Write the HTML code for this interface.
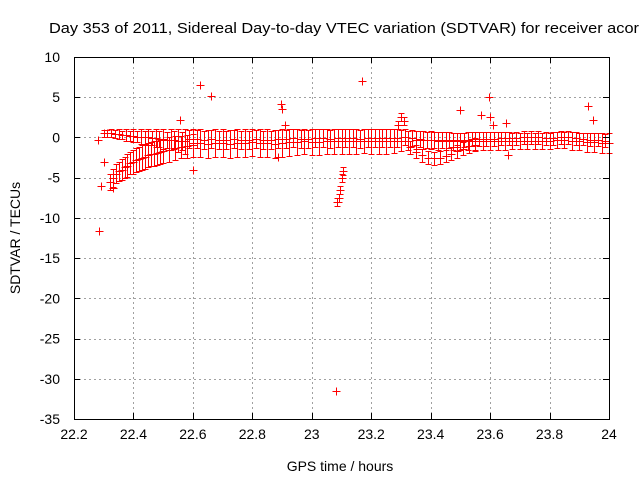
<!DOCTYPE html>
<html><head><meta charset="utf-8"><style>
html,body{margin:0;padding:0;background:#fff;}
svg{display:block;font-family:"Liberation Sans",sans-serif;}
</style></head><body>
<svg id="chart" width="640" height="480">
<text x="49" y="33" font-size="14.5" textLength="590" lengthAdjust="spacingAndGlyphs" fill="#000">Day 353 of 2011, Sidereal Day-to-day VTEC variation (SDTVAR) for receiver acor</text>
<text transform="translate(20,238) rotate(-90)" text-anchor="middle" font-size="14">SDTVAR / TECUs</text>
<text x="340" y="471" text-anchor="middle" font-size="14">GPS time / hours</text>
<g id="grid"></g>
<g id="marks" shape-rendering="crispEdges"></g>
<rect x="74.5" y="57.5" width="535" height="362" fill="none" stroke="#000" stroke-width="1"/>
<g id="ticks"></g>
</svg>
<script>
const xTicks=[22.2,22.4,22.6,22.8,23,23.2,23.4,23.6,23.8,24];
const xTickLabels=["22.2","22.4","22.6","22.8","23","23.2","23.4","23.6","23.8","24"];
const yTicks=[10,5,0,-5,-10,-15,-20,-25,-30,-35];
const yTickLabels=["10","5","0","-5","-10","-15","-20","-25","-30","-35"];
const t1Times=[22.3,22.325,22.35,22.375,22.4,22.425,22.45,22.475,22.5,22.525,22.55,22.575,22.6,22.625,22.65,22.675,22.7,22.725,22.75,22.775,22.8,22.825,22.85,22.875,22.9,22.925,22.95,22.975,23,23.025,23.05,23.075,23.1,23.125,23.15,23.175,23.2,23.225,23.25,23.275,23.3,23.325,23.35,23.375,23.4,23.425,23.45,23.475,23.5,23.525,23.55,23.575,23.6,23.625,23.65,23.675,23.7,23.725,23.75,23.775,23.8,23.825,23.85,23.875,23.9,23.925,23.95,23.975,24];
const t1Values=[0.5,0.6,0.4,0.3,0.2,0.1,0,-0.1,-0.2,-0.3,-0.4,-0.5,-0.7,-0.7,-0.8,-0.7,-0.7,-0.8,-0.7,-0.7,-0.6,-0.7,-0.7,-0.8,-0.7,-0.6,-0.6,-0.5,-0.6,-0.6,-0.5,-0.5,-0.5,-0.5,-0.5,-0.4,-0.5,-0.5,-0.5,-0.4,-0.4,-0.4,-0.3,-0.3,-0.3,-0.4,-0.4,-0.5,-0.5,-0.4,-0.4,-0.4,-0.4,-0.4,-0.4,-0.4,-0.4,-0.4,-0.4,-0.4,-0.4,-0.3,-0.3,-0.4,-0.5,-0.6,-0.6,-0.7,-0.7];
const t1Errors=[0.4,0.5,0.6,0.7,0.8,0.9,1.0,1.1,1.2,1.3,1.4,1.5,1.7,1.7,1.7,1.7,1.7,1.7,1.7,1.7,1.7,1.7,1.7,1.7,1.7,1.7,1.6,1.6,1.6,1.6,1.6,1.5,1.5,1.5,1.5,1.5,1.5,1.5,1.5,1.5,1.3,1.2,1.1,1.1,1.1,1.1,1.1,1.1,1.1,1.1,1.1,1.1,1.1,1.1,1.1,1.0,1.0,1.0,1.0,1.0,1.0,1.0,1.0,1.1,1.1,1.2,1.2,1.2,1.2];
const t5Times=[22.3125,22.3375,22.3625,22.3875,22.4125,22.4375,22.4625,22.4875,22.5125,22.5375,22.5625,22.5875,22.6125,22.6375,22.6625,22.6875,22.7125,22.7375,22.7625,22.7875,22.8125,22.8375,22.8625,22.8875,22.9125,22.9375,22.9625,22.9875,23.0125,23.0375,23.0625,23.0875,23.1125,23.1375,23.1625,23.1875,23.2125,23.2375,23.2625,23.2875,23.3125,23.3375,23.3625,23.3875,23.4125,23.4375,23.4625,23.4875,23.5125,23.5375,23.5625,23.5875,23.6125,23.6375,23.6625,23.6875,23.7125,23.7375,23.7625,23.7875,23.8125,23.8375,23.8625,23.8875,23.9125,23.9375,23.9625,23.9875];
const t5Values=[0.5,0.4,0.3,0.2,0.1,0,-0.1,-0.2,-0.3,-0.3,-0.4,-0.2,-0.2,-0.3,-0.2,-0.3,-0.3,-0.2,-0.3,-0.3,-0.2,-0.3,-0.3,-0.2,-0.2,-0.1,-0.2,-0.2,-0.1,-0.1,-0.2,-0.1,-0.1,-0.1,-0.2,-0.1,-0.1,-0.1,-0.1,-0.1,0,-0.1,-0.2,-0.3,-0.3,-0.3,-0.3,-0.3,-0.3,-0.2,-0.2,-0.2,-0.2,-0.1,-0.1,-0.1,0,0,0,-0.1,-0.1,0,0,-0.1,-0.2,-0.3,-0.3,-0.4];
const t5Errors=[0.4,0.5,0.5,0.6,0.7,0.8,0.9,1.0,1.0,1.1,1.1,1.1,1.1,1.1,1.1,1.1,1.1,1.1,1.1,1.1,1.1,1.1,1.1,1.1,1.1,1.1,1.1,1.1,1.1,1.1,1.1,1.1,1.1,1.1,1.1,1.1,1.1,1.1,1.1,1.1,1.0,1.0,1.0,1.0,1.0,1.0,1.0,0.9,0.9,0.9,0.9,0.9,0.9,0.8,0.8,0.8,0.8,0.8,0.8,0.8,0.8,0.8,0.8,0.8,0.8,0.8,0.8,0.8];
const t2Times=[22.32,22.33,22.34,22.35,22.36,22.37,22.38,22.39,22.4,22.41,22.42,22.43,22.44,22.45,22.46,22.47,22.48,22.49,22.5,22.52,22.54,22.56,22.58,22.6];
const t2Values=[-5.5,-5,-4.5,-4.2,-4,-3.7,-3.5,-3.2,-3,-2.8,-2.7,-2.5,-2.4,-2.2,-2.1,-2,-1.9,-1.8,-1.7,-1.5,-1.3,-1.2,-1.1,-1.0];
const t2Errors=[1.0,1.1,1.2,1.2,1.3,1.3,1.4,1.4,1.5,1.5,1.5,1.5,1.5,1.5,1.5,1.5,1.5,1.5,1.5,1.5,1.5,1.4,1.4,1.4];
const t3Times=[23.33,23.35,23.37,23.39,23.41,23.43,23.45,23.47,23.49,23.51,23.53,23.55];
const t3Values=[-1.2,-1.8,-2.2,-2.5,-2.6,-2.5,-2.3,-2.0,-1.7,-1.4,-1.1,-0.9];
const t3Errors=[0.8,0.8,0.8,0.8,0.8,0.8,0.8,0.8,0.8,0.8,0.8,0.8];
const t4Times=[23.085,23.09,23.095,23.1,23.105,23.29,23.3,23.31];
const t4Values=[-8,-7.5,-6.5,-5,-4.2,1.5,2.5,2];
const t4Errors=[0.5,0.5,0.5,0.5,0.5,0.5,0.5,0.5];
const outTimes=[22.285,22.29,22.28,22.3,22.33,22.6,22.625,22.66,22.555,22.895,22.9,22.91,22.885,23.08,23.17,23.5,23.57,23.595,23.6,23.61,23.655,23.66,23.93,23.945];
const outValues=[-11.6,-6,-0.3,-3.1,-6.3,-4,6.5,5.1,2.2,4.1,3.5,1.5,-2.4,-31.5,7,3.4,2.8,5,2.6,1.5,1.8,-2.2,3.9,2.2];

const X0=74,X1=609,Y0=57,Y1=419;
const xs=v=>X0+(v-22.2)/(24-22.2)*(X1-X0);
const ys=v=>Y0+(10-v)/45*(Y1-Y0);
const NS="http://www.w3.org/2000/svg";
function mk(tag,attrs,parent){const e=document.createElementNS(NS,tag);for(const k in attrs)e.setAttribute(k,attrs[k]);parent.appendChild(e);return e;}
const grid=document.getElementById('grid'),ticks=document.getElementById('ticks'),marks=document.getElementById('marks');
const r=v=>Math.round(v)+0.5;
xTicks.forEach((v,i)=>{
  const x=r(xs(v));
  if(i>0&&i<xTicks.length-1){const g=mk('line',{x1:x,x2:x,y1:Y0,y2:Y1,stroke:'#a0a0a0','stroke-dasharray':'2,3'},grid);
  
  }
  mk('line',{x1:x,x2:x,y1:Y1,y2:Y1-6,stroke:'#000'},ticks);
  mk('line',{x1:x,x2:x,y1:Y0,y2:Y0+6,stroke:'#000'},ticks);
  const t=mk('text',{x:xs(v),y:Y1+20,'text-anchor':'middle','font-size':14},ticks);t.textContent=xTickLabels[i];
  
  
});
yTicks.forEach((v,i)=>{
  const y=r(ys(v));
  if(i>0&&i<yTicks.length-1){const g=mk('line',{x1:X0,x2:X1,y1:y,y2:y,stroke:'#a0a0a0','stroke-dasharray':'2,3'},grid);
  
  }
  mk('line',{x1:X0,x2:X0+6,y1:y,y2:y,stroke:'#000'},ticks);
  mk('line',{x1:X1,x2:X1-6,y1:y,y2:y,stroke:'#000'},ticks);
  const t=mk('text',{x:X0-14,y:ys(v)+5,'text-anchor':'end','font-size':14},ticks);t.textContent=yTickLabels[i];
  
  
});
function cross(t,v){
  const x=r(xs(t)),y=r(ys(v));
  const p=mk('path',{d:`M${x-4},${y}h8M${x},${y-4}v8`,stroke:'#ff0000','stroke-width':1,fill:'none'},marks);
  
  
}
function series(times,vals,errs){
  times.forEach((t,i)=>{
    const x=r(xs(t)),yt=r(ys(vals[i]+errs[i])),yb=r(ys(vals[i]-errs[i]));
    const p=mk('path',{d:`M${x},${yt}V${yb}M${x-3},${yt}h6M${x-3},${yb}h6`,stroke:'#ff0000','stroke-width':1,fill:'none'},marks);
    
    
    cross(t,vals[i]);
  });
}
series(t1Times,t1Values,t1Errors);
series(t5Times,t5Values,t5Errors);
series(t2Times,t2Values,t2Errors);
series(t3Times,t3Values,t3Errors);
series(t4Times,t4Values,t4Errors);
outTimes.forEach((t,i)=>cross(t,outValues[i]));
</script>
</body></html>
